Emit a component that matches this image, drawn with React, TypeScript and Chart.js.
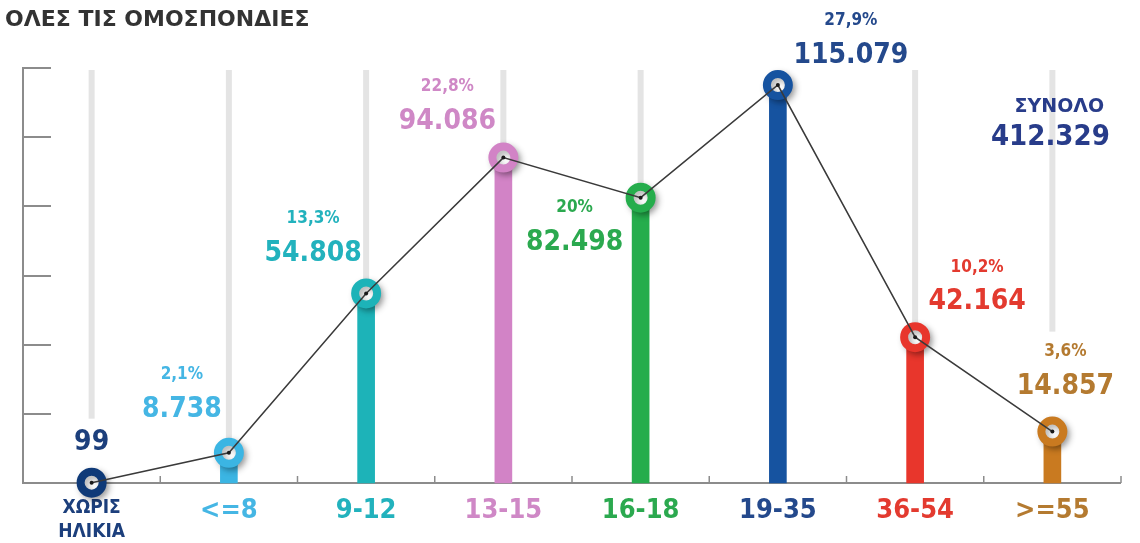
import React, { useEffect, useRef } from 'react';
import { Chart, registerables } from 'chart.js';

Chart.register(...registerables);

// ---------- data ----------
const titleText = 'ΟΛΕΣ ΤΙΣ ΟΜΟΣΠΟΝΔΙΕΣ';
const categories: (string | string[])[] = [['ΧΩΡΙΣ', 'ΗΛΙΚΙΑ'], '<=8', '9-12', '13-15', '16-18', '19-35', '36-54', '>=55'];
const players = [99, 8738, 54808, 94086, 82498, 115079, 42164, 14857];
const valueLabels = ['99', '8.738', '54.808', '94.086', '82.498', '115.079', '42.164', '14.857'];
const shareLabels = ['', '2,1%', '13,3%', '22,8%', '20%', '27,9%', '10,2%', '3,6%'];
const totalTitle = 'ΣΥΝΟΛΟ';
const totalValue = '412.329';
const yTicks = [0, 20000, 40000, 60000, 80000, 100000, 120000];

// ---------- styles ----------
const barColors = ['#0f3a78', '#3bb5e3', '#1db3b8', '#d283c6', '#25ad4c', '#1653a0', '#e8362c', '#c97a20'];
const textColors = ['#1c3f7c', '#45b6e4', '#22b2bd', '#cf88c6', '#2ba94f', '#24498c', '#e33a2f', '#b47a30'];
const totalColor = '#283c8a';
// value-label centre offsets relative to each point (px)
const labelOffsets: [number, number][] = [
  [0, -40], [-47, -43], [-53, -40], [-56, -36], [-66, 45], [73, -29], [62, -35], [13, -45],
];
const shareGap = 35;
const COND = "'DejaVu Sans Condensed', 'DejaVu Sans', sans-serif";
const WIDE = "'DejaVu Sans', sans-serif";

const overlayPlugin = {
  id: 'overlay',
  beforeDatasetsDraw(chart: any) {
    const { ctx, chartArea, scales } = chart;
    const xs = scales.x;
    const ys = scales.y;
    const half = (xs.getPixelForValue(1) - xs.getPixelForValue(0)) / 2;
    ctx.save();

    // title
    ctx.fillStyle = '#333333';
    ctx.font = `bold 22px ${WIDE}`;
    ctx.textAlign = 'left';
    ctx.textBaseline = 'alphabetic';
    ctx.fillText(titleText, 5, 26);

    // light guide lines at each category
    ctx.strokeStyle = '#e4e4e4';
    ctx.lineWidth = 6;
    categories.forEach((_, i) => {
      const px = xs.getPixelForValue(i);
      ctx.beginPath();
      ctx.moveTo(px, chartArea.top + 2);
      ctx.lineTo(px, chartArea.bottom);
      ctx.stroke();
    });

    // axes
    ctx.strokeStyle = '#8c8c8c';
    ctx.lineWidth = 2;
    ctx.beginPath();
    ctx.moveTo(chartArea.left, chartArea.top - 1);
    ctx.lineTo(chartArea.left, chartArea.bottom);
    ctx.lineTo(chartArea.right, chartArea.bottom);
    ctx.stroke();
    // y ticks (inside)
    yTicks.forEach((v) => {
      if (v === 0) return;
      const py = Math.round(ys.getPixelForValue(v));
      ctx.beginPath();
      ctx.moveTo(chartArea.left, py);
      ctx.lineTo(chartArea.left + 28, py);
      ctx.stroke();
    });
    // x ticks at category boundaries
    ctx.lineWidth = 1.5;
    categories.forEach((_, i) => {
      const px = xs.getPixelForValue(i) + half;
      ctx.beginPath();
      ctx.moveTo(px, chartArea.bottom);
      ctx.lineTo(px, chartArea.bottom - 7);
      ctx.stroke();
    });

    // x labels
    ctx.textAlign = 'center';
    ctx.textBaseline = 'middle';
    categories.forEach((lab, i) => {
      const px = xs.getPixelForValue(i);
      ctx.fillStyle = textColors[i];
      if (Array.isArray(lab)) {
        ctx.font = `bold 19px ${COND}`;
        lab.forEach((line, k) => ctx.fillText(line, px, chartArea.bottom + 25 + k * 24));
      } else {
        ctx.font = `bold 27px ${COND}`;
        ctx.fillText(lab, px, chartArea.bottom + 28);
      }
    });

    // value + share labels with white backing
    players.forEach((v, i) => {
      const px = xs.getPixelForValue(i) + labelOffsets[i][0];
      const py = ys.getPixelForValue(v) + labelOffsets[i][1];
      ctx.font = `bold 28px ${COND}`;
      const w1 = ctx.measureText(valueLabels[i]).width;
      ctx.font = `bold 17px ${COND}`;
      const w2 = shareLabels[i] ? ctx.measureText(shareLabels[i]).width : 0;
      const w = Math.max(w1, w2);
      const top = (shareLabels[i] ? py - shareGap - 10 : py - 14) - 10;
      const bottom = py + 30;
      ctx.fillStyle = '#ffffff';
      ctx.fillRect(px - w / 2, top, w, bottom - top);
      ctx.fillStyle = textColors[i];
      ctx.font = `bold 28px ${COND}`;
      ctx.fillText(valueLabels[i], px, py);
      if (shareLabels[i]) {
        ctx.font = `bold 17px ${COND}`;
        ctx.fillText(shareLabels[i], px, py - shareGap);
      }
    });

    // total
    const tx = xs.getPixelForValue(categories.length - 1) + 3;
    ctx.fillStyle = totalColor;
    ctx.font = `bold 19px ${WIDE}`;
    ctx.fillText(totalTitle, tx + 4, chartArea.top + 39);
    ctx.font = `bold 29px ${COND}`;
    ctx.fillText(totalValue, tx - 5, chartArea.top + 69);

    ctx.restore();
  },
  beforeDatasetDraw(chart: any, args: any) {
    if (args.index === 1) {
      const ctx = chart.ctx;
      ctx.save();
      ctx.shadowColor = 'rgba(0,0,0,0.3)';
      ctx.shadowBlur = 6;
      ctx.shadowOffsetX = 3;
      ctx.shadowOffsetY = 3;
    }
  },
  afterDatasetDraw(chart: any, args: any) {
    if (args.index === 1) chart.ctx.restore();
  },
};

export default function App() {
  const canvasRef = useRef<HTMLCanvasElement | null>(null);

  useEffect(() => {
    if (!canvasRef.current) return;
    const chart = new Chart(canvasRef.current, {
      type: 'bar',
      data: {
        labels: categories as any,
        datasets: [
          {
            type: 'line',
            label: 'trend',
            data: players,
            borderColor: '#3a3a3a',
            borderWidth: 1.5,
            pointRadius: 2,
            pointBorderWidth: 0,
            pointBackgroundColor: '#1a1a1a',
            fill: false,
            tension: 0,
            order: 0,
            clip: false,
          } as any,
          {
            type: 'line',
            label: 'rings',
            data: players,
            showLine: false,
            pointRadius: 11,
            pointBorderWidth: 8,
            pointBorderColor: barColors,
            pointBackgroundColor: '#ffffff',
            order: 1,
            clip: false,
          } as any,
          {
            type: 'bar',
            label: 'players',
            data: players,
            backgroundColor: barColors,
            barThickness: 17,
            order: 2,
            clip: false,
          } as any,
        ],
      },
      options: {
        animation: false,
        responsive: true,
        maintainAspectRatio: false,
        layout: { padding: { left: 23, right: 13, top: 68, bottom: 60 } },
        plugins: { legend: { display: false }, tooltip: { enabled: false } },
        scales: {
          x: { display: false, offset: true },
          y: { display: false, min: 0, max: 120000, ticks: { stepSize: 20000 } },
        },
      },
      plugins: [overlayPlugin],
    });
    return () => chart.destroy();
  }, []);

  return (
    <div style={{ position: 'absolute', left: 0, top: 0, width: 1140, height: 543, background: '#ffffff' }}>
      <canvas ref={canvasRef} />
    </div>
  );
}
